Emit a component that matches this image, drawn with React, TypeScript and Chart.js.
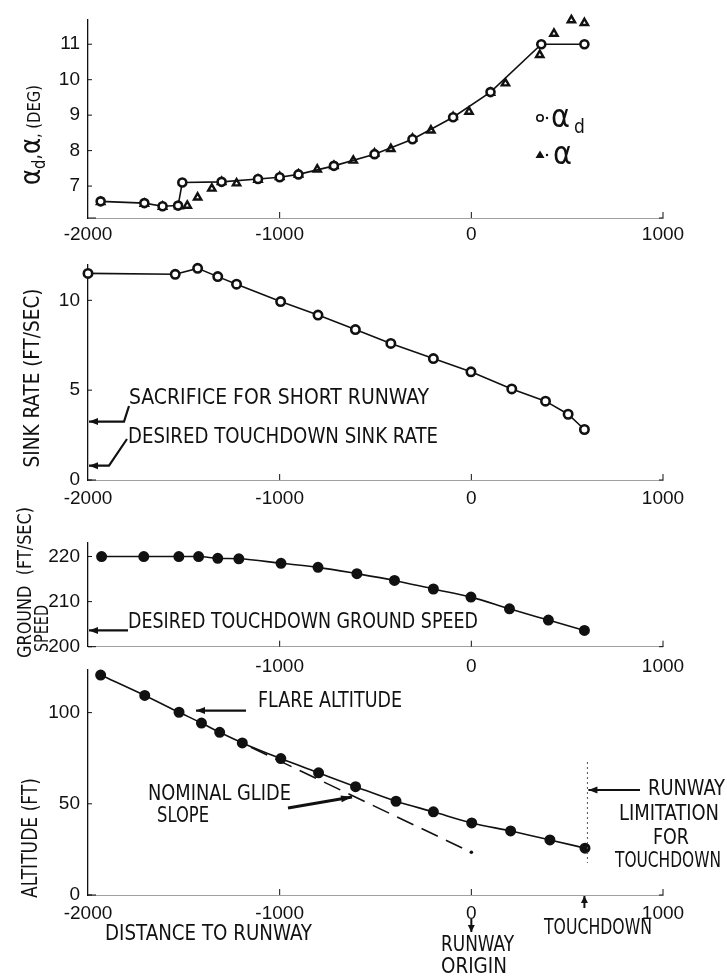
import React, { useEffect, useRef } from "react";
import { Chart, registerables } from "chart.js";
Chart.register(...registerables);

const FONT = "'Liberation Sans Narrow', 'DejaVu Sans Condensed', 'Liberation Sans', Arial, sans-serif";
const TICK_FONT = "'Liberation Sans', Arial, sans-serif";
const INK = "#111";

// ---------- shared x axis ----------
const X_MIN = -2000;
const X_MAX = 1000;
const X_TICKS = [-2000, -1000, 0, 1000];
const X_TICKS_GS = [-1000, 0, 1000];

// ---------- panel 1 : angle of attack ----------
const ALPHA_D_X = [-1934, -1706, -1611, -1530, -1508, -1303, -1113, -1000, -902, -717, -505, -307, -95, 100, 365, 590];
const ALPHA_D_Y = [6.57, 6.52, 6.43, 6.45, 7.1, 7.12, 7.2, 7.25, 7.33, 7.57, 7.9, 8.32, 8.94, 9.65, 11.0, 11.0];
const ALPHA_X = [-1934, -1706, -1611, -1525, -1482, -1428, -1354, -1303, -1225, -1113, -1000, -902, -804, -717, -616, -505, -420, -307, -211, -95, -12, 100, 178, 357, 431, 522, 590];
const ALPHA_Y = [6.55, 6.5, 6.42, 6.43, 6.45, 6.68, 6.93, 7.12, 7.08, 7.18, 7.26, 7.33, 7.47, 7.57, 7.72, 7.92, 8.05, 8.34, 8.57, 8.95, 9.1, 9.63, 9.9, 10.7, 11.3, 11.68, 11.6];
const ALPHA_TICKS = [7, 8, 9, 10, 11];

// ---------- panel 2 : sink rate ----------
const SINK_X = [-2000, -1545, -1428, -1323, -1225, -995, -800, -605, -420, -198, -2, 211, 387, 505, 590];
const SINK_Y = [11.5, 11.45, 11.78, 11.32, 10.9, 9.93, 9.18, 8.37, 7.6, 6.76, 6.02, 5.07, 4.39, 3.66, 2.81];
const SINK_TICKS = [0, 5, 10];
const SACRIFICE_SINK = 3.25;
const DESIRED_SINK = 0.8;

// ---------- panel 3 : ground speed ----------
const GS_X = [-1929, -1709, -1526, -1423, -1323, -1213, -993, -800, -597, -401, -198, -2, 199, 402, 590];
const GS_Y = [220, 220, 220, 220, 219.6, 219.5, 218.5, 217.6, 216.2, 214.7, 212.8, 211.0, 208.4, 205.9, 203.6];
const GS_TICKS = [200, 210, 220];
const DESIRED_GS = 203.6;

// ---------- panel 4 : altitude ----------
const ALT_X = [-1934, -1704, -1525, -1408, -1313, -1195, -994, -797, -604, -393, -198, 2, 205, 410, 593];
const ALT_Y = [120.6, 109.4, 100.2, 94.3, 89.2, 83.4, 74.8, 67, 59.4, 51.4, 45.6, 39.5, 35.1, 30.2, 25.7];
const GLIDE_X = [-1150, 0];
const GLIDE_Y = [81.0, 23.4];
const ALT_TICKS = [0, 50, 100];
const FLARE_ALT = 100;
const TOUCHDOWN_X = 590;
const RUNWAY_ORIGIN_X = 0;

const pts = (xs: number[], ys: number[]) => xs.map((x, i) => ({ x, y: ys[i] }));

// ---------- drawing helpers ----------
function txt(ctx: CanvasRenderingContext2D, s: string, x: number, y: number, w?: number, size = 20) {
  ctx.save();
  ctx.font = `${size}px ${FONT}`;
  ctx.textBaseline = "middle";
  ctx.textAlign = "left";
  const m = ctx.measureText(s).width;
  const sx = w ? w / m : 1;
  ctx.translate(x, y);
  ctx.scale(sx, 1);
  ctx.fillStyle = INK;
  ctx.fillText(s, 0, 0);
  ctx.restore();
}

type Part = { t: string; size: number; dy?: number };
function rotText(ctx: CanvasRenderingContext2D, parts: Part[], cx: number, cy: number, len: number, align: "center" | "start" = "center") {
  ctx.save();
  ctx.translate(cx, cy);
  ctx.rotate(-Math.PI / 2);
  const widths = parts.map((p) => {
    ctx.font = `${p.size}px ${FONT}`;
    return ctx.measureText(p.t).width;
  });
  const tot = widths.reduce((a, b) => a + b, 0);
  ctx.scale(len / tot, 1);
  let x = align === "center" ? -tot / 2 : 0;
  ctx.textBaseline = "alphabetic";
  ctx.textAlign = "left";
  ctx.fillStyle = INK;
  parts.forEach((p, i) => {
    ctx.font = `${p.size}px ${FONT}`;
    ctx.fillText(p.t, x, 7 + (p.dy || 0));
    x += widths[i];
  });
  ctx.restore();
}

function arrow(ctx: CanvasRenderingContext2D, path: [number, number][], lw = 2, head = 9) {
  ctx.save();
  ctx.strokeStyle = INK;
  ctx.fillStyle = INK;
  ctx.lineWidth = lw;
  ctx.beginPath();
  ctx.moveTo(path[0][0], path[0][1]);
  for (let i = 1; i < path.length; i++) ctx.lineTo(path[i][0], path[i][1]);
  ctx.stroke();
  const [x2, y2] = path[path.length - 1];
  const [x1, y1] = path[path.length - 2];
  const a = Math.atan2(y2 - y1, x2 - x1);
  ctx.beginPath();
  ctx.moveTo(x2, y2);
  ctx.lineTo(x2 - head * Math.cos(a) + 3.5 * Math.sin(a), y2 - head * Math.sin(a) - 3.5 * Math.cos(a));
  ctx.lineTo(x2 - head * Math.cos(a) - 3.5 * Math.sin(a), y2 - head * Math.sin(a) + 3.5 * Math.cos(a));
  ctx.closePath();
  ctx.fill();
  ctx.restore();
}

function axisMarks(ctx: CanvasRenderingContext2D, chart: any, T: number, yTicks: number[]) {
  const xs = chart.scales.x;
  const ys = chart.scales.y;
  const ca = chart.chartArea;
  ctx.save();
  ctx.strokeStyle = INK;
  ctx.lineWidth = 1;
  ctx.beginPath();
  [-1000, 0, 1000].forEach((v) => {
    const px = xs.getPixelForValue(v);
    ctx.moveTo(px, ca.bottom + T);
    ctx.lineTo(px, ca.bottom + T - 6);
  });
  const r = xs.getPixelForValue(1000);
  ctx.moveTo(r - 4, ca.bottom + T);
  ctx.lineTo(r, ca.bottom + T);
  yTicks.forEach((v) => {
    const py = ys.getPixelForValue(v) + T;
    ctx.moveTo(ca.left, py);
    ctx.lineTo(ca.left + 4, py);
  });
  ctx.moveTo(ca.left, ca.bottom + T);
  ctx.lineTo(ca.left + 8, ca.bottom + T);
  ctx.stroke();
  ctx.restore();
}

// ---------- scales ----------
function xScale(ticks: number[], pad: number) {
  return {
    type: "linear",
    min: X_MIN,
    max: X_MAX,
    grid: { display: false, drawTicks: false },
    border: { display: true, color: "#a0a0a0", width: 1, dash: [2, 6] },
    ticks: { color: INK, font: { family: TICK_FONT, size: 19 }, padding: pad, maxRotation: 0, autoSkip: false, callback: (v: any) => String(v) },
    afterBuildTicks: (s: any) => { s.ticks = ticks.map((v) => ({ value: v })); },
    afterFit: (s: any) => { s.height = 30; },
  };
}
function yScale(min: number, max: number, ticks: number[]) {
  return {
    type: "linear",
    min,
    max,
    grid: { display: false, drawTicks: false },
    border: { display: true, color: INK, width: 1.3 },
    ticks: { color: INK, font: { family: TICK_FONT, size: 19 }, padding: 8, autoSkip: false, callback: (v: any) => String(v) },
    afterBuildTicks: (s: any) => { s.ticks = ticks.map((v) => ({ value: v })); },
    afterFit: (s: any) => { s.width = 88; },
  };
}

type PanelDef = {
  top: number;
  height: number;
  padTop: number;
  padBottom: number;
  datasets: any[];
  x: any;
  y: any;
  draw: (ctx: CanvasRenderingContext2D, chart: any, xv: (v: number) => number, yv: (v: number) => number) => void;
};

const lineDs = (data: any[], extra: any = {}) => ({
  data,
  showLine: true,
  borderColor: INK,
  borderWidth: 1.6,
  pointRadius: 4.2,
  pointBorderWidth: 2.6,
  pointBorderColor: INK,
  pointBackgroundColor: "#fff",
  clip: false,
  ...extra,
});

const PANELS: PanelDef[] = [
  {
    top: 0,
    height: 250,
    padTop: 6.5,
    padBottom: 2,
    x: xScale(X_TICKS, 5),
    y: yScale(6.1, 11.7, ALPHA_TICKS),
    datasets: [
      lineDs(pts(ALPHA_D_X, ALPHA_D_Y), { pointRadius: 4 }),
      lineDs(pts(ALPHA_X, ALPHA_Y), { showLine: false, pointStyle: "triangle", pointRadius: 4.2, pointBackgroundColor: "#fff", pointBorderWidth: 2.4 }),
    ],
    draw: (ctx, chart) => {
      axisMarks(ctx, chart, 0, ALPHA_TICKS);
      rotText(ctx, [
        { t: "α", size: 28 },
        { t: "d", size: 17, dy: 5 },
        { t: ",", size: 20 },
        { t: "α", size: 28 },
        { t: ", (DEG)", size: 17 },
      ], 33, 135, 100);
      // legend
      ctx.save();
      ctx.strokeStyle = INK;
      ctx.fillStyle = INK;
      ctx.lineWidth = 1.6;
      ctx.beginPath();
      ctx.arc(540, 118, 3.2, 0, Math.PI * 2);
      ctx.stroke();
      ctx.beginPath();
      ctx.arc(547, 118, 1.2, 0, Math.PI * 2);
      ctx.arc(547, 155, 1.2, 0, Math.PI * 2);
      ctx.fill();
      ctx.beginPath();
      ctx.moveTo(540, 150.5);
      ctx.lineTo(544.5, 158);
      ctx.lineTo(535.5, 158);
      ctx.closePath();
      ctx.fill();
      ctx.font = `32px ${FONT}`;
      ctx.textBaseline = "alphabetic";
      ctx.fillText("α", 551, 127);
      ctx.fillText("α", 553, 164);
      ctx.font = `19px ${FONT}`;
      ctx.fillText("d", 574, 133);
      ctx.restore();
    },
  },
  {
    top: 245,
    height: 265,
    padTop: 14,
    padBottom: 0,
    x: xScale(X_TICKS, 7),
    y: yScale(0, 12, SINK_TICKS),
    datasets: [lineDs(pts(SINK_X, SINK_Y))],
    draw: (ctx, chart, xv, yv) => {
      axisMarks(ctx, chart, 245, SINK_TICKS);
      rotText(ctx, [{ t: "SINK RATE (FT/SEC)", size: 21 }], 32, 378, 179);
      const L = xv(X_MIN) + 1;
      txt(ctx, "SACRIFICE FOR SHORT RUNWAY", 129, 399, 300, 21);
      const ys = yv(SACRIFICE_SINK);
      arrow(ctx, [[129, 406], [124, ys], [L, ys]], 2.2);
      txt(ctx, "DESIRED TOUCHDOWN SINK RATE", 128, 438, 310, 21);
      const yd = yv(DESIRED_SINK);
      arrow(ctx, [[127, 439], [109, yd], [L, yd]], 2.2);
    },
  },
  {
    top: 505,
    height: 175,
    padTop: 38,
    padBottom: 3.3,
    x: xScale(X_TICKS_GS, 9),
    y: yScale(200, 223, GS_TICKS),
    datasets: [lineDs(pts(GS_X, GS_Y), { cubicInterpolationMode: "monotone", pointBackgroundColor: INK, pointRadius: 4.2 })],
    draw: (ctx, chart, xv, yv) => {
      axisMarks(ctx, chart, 505, GS_TICKS);
      rotText(ctx, [{ t: "GROUND  (FT/SEC)", size: 20 }], 24, 658, 151, "start");
      rotText(ctx, [{ t: "SPEED", size: 20 }], 41, 652, 47, "start");
      txt(ctx, "DESIRED TOUCHDOWN GROUND SPEED", 128, 623, 350, 21);
      const y = yv(DESIRED_GS);
      arrow(ctx, [[128, y], [xv(X_MIN) + 1, y]], 2.2);
    },
  },
  {
    top: 650,
    height: 330,
    padTop: 12,
    padBottom: 55,
    x: xScale(X_TICKS, 7),
    y: yScale(0, 123.7, ALT_TICKS),
    datasets: [
      lineDs(pts(ALT_X, ALT_Y), { cubicInterpolationMode: "monotone", pointBackgroundColor: INK, pointRadius: 4.2 }),
      {
        data: pts(GLIDE_X, GLIDE_Y),
        showLine: true,
        borderColor: INK,
        borderWidth: 1.6,
        borderDash: [18, 9],
        pointRadius: [0, 1.8],
        pointBackgroundColor: INK,
        pointBorderWidth: 0,
        clip: false,
      },
    ],
    draw: (ctx, chart, xv, yv) => {
      axisMarks(ctx, chart, 650, ALT_TICKS);
      rotText(ctx, [{ t: "ALTITUDE (FT)", size: 21 }], 30, 838, 120);
      // flare altitude
      txt(ctx, "FLARE ALTITUDE", 258, 702, 144, 21);
      const yf = yv(FLARE_ALT) - 2;
      arrow(ctx, [[246, yf], [196, yf]], 2.4);
      // nominal glide slope
      txt(ctx, "NOMINAL GLIDE", 148, 795, 143, 21);
      txt(ctx, "SLOPE", 157, 817, 52, 21);
      arrow(ctx, [[288, 808], [352, 797]], 3, 11);
      // runway limitation
      const xt = xv(TOUCHDOWN_X);
      ctx.save();
      ctx.strokeStyle = "#555";
      ctx.lineWidth = 1;
      ctx.setLineDash([2, 3]);
      ctx.beginPath();
      ctx.moveTo(xt + 3, 762);
      ctx.lineTo(xt + 3, 863);
      ctx.stroke();
      ctx.restore();
      arrow(ctx, [[640, 790], [xt + 4, 790]], 2.2);
      txt(ctx, "RUNWAY", 648, 790, 77, 21);
      txt(ctx, "LIMITATION", 619, 815, 100, 21);
      txt(ctx, "FOR", 653, 839, 36, 21);
      txt(ctx, "TOUCHDOWN", 615, 862, 106, 21);
      // bottom labels
      txt(ctx, "DISTANCE TO RUNWAY", 105, 935, 207, 21);
      const xo = xv(RUNWAY_ORIGIN_X);
      arrow(ctx, [[xo, 919], [xo, 932]], 2, 7);
      txt(ctx, "RUNWAY", 441, 946, 73, 21);
      txt(ctx, "ORIGIN", 441, 968, 66, 21);
      arrow(ctx, [[xt, 908], [xt, 896]], 2, 7);
      txt(ctx, "TOUCHDOWN", 544, 929, 108, 21);
    },
  },
];

function makeConfig(p: PanelDef): any {
  const annot = {
    id: "annot" + p.top,
    afterDraw(chart: any) {
      const ctx = chart.ctx as CanvasRenderingContext2D;
      ctx.save();
      ctx.translate(0, -p.top);
      const xv = (v: number) => chart.scales.x.getPixelForValue(v);
      const yv = (v: number) => chart.scales.y.getPixelForValue(v) + p.top;
      p.draw(ctx, chart, xv, yv);
      ctx.restore();
    },
  };
  return {
    type: "scatter",
    data: { datasets: p.datasets },
    options: {
      animation: false,
      responsive: false,
      devicePixelRatio: 1,
      layout: { padding: { left: 0, right: 64, top: p.padTop, bottom: p.padBottom } },
      plugins: { legend: { display: false }, tooltip: { enabled: false } },
      scales: { x: p.x, y: p.y },
    },
    plugins: [annot],
  };
}

function Panel({ p }: { p: PanelDef }) {
  const ref = useRef<HTMLCanvasElement>(null);
  useEffect(() => {
    if (!ref.current) return;
    const c = new Chart(ref.current, makeConfig(p));
    return () => c.destroy();
  }, [p]);
  return (
    <canvas
      ref={ref}
      width={727}
      height={p.height}
      style={{ position: "absolute", left: 0, top: p.top, width: 727, height: p.height }}
    />
  );
}

export default function App() {
  return (
    <div style={{ position: "absolute", left: 0, top: 0, width: 727, height: 980, background: "#fff" }}>
      {PANELS.map((p) => (
        <Panel key={p.top} p={p} />
      ))}
    </div>
  );
}
